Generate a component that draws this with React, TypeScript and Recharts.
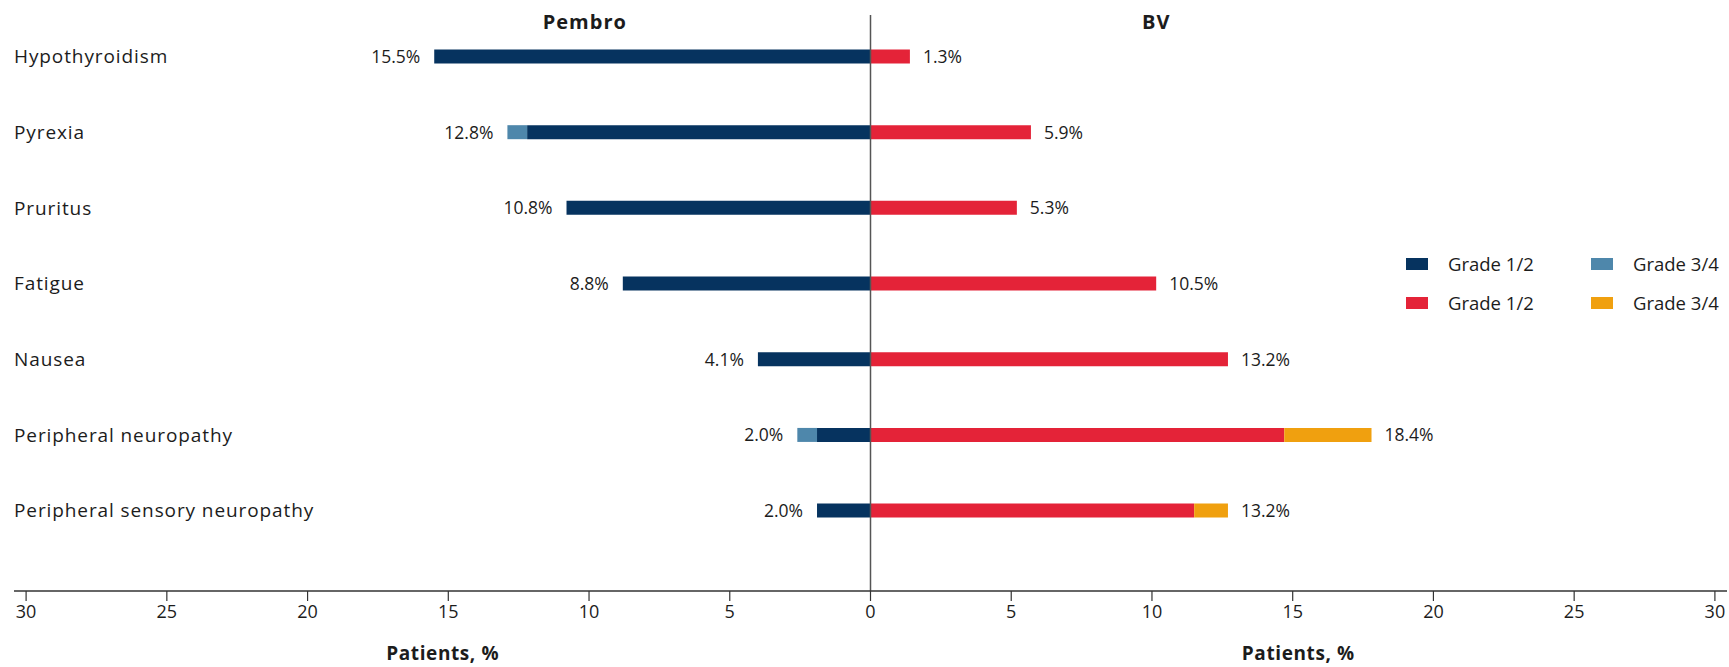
import React from 'react';
import { BarChart, Bar, XAxis, YAxis, ReferenceLine, LabelList, Legend } from 'recharts';

const categories = [
  'Hypothyroidism',
  'Pyrexia',
  'Pruritus',
  'Fatigue',
  'Nausea',
  'Peripheral neuropathy',
  'Peripheral sensory neuropathy',
];
const pembroGrade12 = [15.5, 12.2, 10.8, 8.8, 4.0, 1.9, 1.9];
const pembroGrade34 = [0, 0.7, 0, 0, 0, 0.7, 0];
const bvGrade12 = [1.4, 5.7, 5.2, 10.15, 12.7, 14.7, 11.5];
const bvGrade34 = [0, 0, 0, 0, 0, 3.1, 1.2];
const pembroLabels = ['15.5%', '12.8%', '10.8%', '8.8%', '4.1%', '2.0%', '2.0%'];
const bvLabels = ['1.3%', '5.9%', '5.3%', '10.5%', '13.2%', '18.4%', '13.2%'];
const xTicks = [-30, -25, -20, -15, -10, -5, 0, 5, 10, 15, 20, 25, 30];
const armTitles = ['Pembro', 'BV'];
const axisTitle = 'Patients, %';
const legendOrder = ['pembro12', 'pembro34', 'bv12', 'bv34'];

const COLORS = {
  pembro12: '#06335f',
  pembro34: '#4e87ab',
  bv12: '#e42338',
  bv34: '#f0a00f',
};

const FONT = '"Open Sans", sans-serif';
const TEXT = '#1c1c1c';

const W = 1729;
const H = 667;
const PLOT_L = 14;
const PLOT_R = 1727;
const DOM = 30.43;
const xPos = (v: number) => PLOT_L + ((v + DOM) / (2 * DOM)) * (PLOT_R - PLOT_L);

const data = categories.map((name, i) => ({
  name,
  pembro12: -pembroGrade12[i],
  pembro34: -pembroGrade34[i],
  bv12: bvGrade12[i],
  bv34: bvGrade34[i],
}));

const getBox = (props: any) => {
  const vb = props.viewBox || {};
  const x = Number(props.x ?? vb.x);
  const y = Number(props.y ?? vb.y);
  const w = Number(props.width ?? vb.width);
  const h = Number(props.height ?? vb.height);
  return { x, y, w, h };
};

const PembroLabel = (props: any) => {
  const { index } = props;
  const { x, y, w, h } = getBox(props);
  const val = Math.abs(Number(props.value));
  const ppu = val ? Math.abs(w) / val : 0;
  const end = Math.min(x, x + w) - pembroGrade34[index] * ppu;
  return (
    <text x={end - 14} y={y + h / 2} dy={6.5} textAnchor="end" fontSize={17.5} fontFamily={FONT} fill={TEXT}>
      {pembroLabels[index]}
    </text>
  );
};

const BvLabel = (props: any) => {
  const { index } = props;
  const { x, y, w, h } = getBox(props);
  const val = Math.abs(Number(props.value));
  const ppu = val ? Math.abs(w) / val : 0;
  const end = Math.max(x, x + w) + bvGrade34[index] * ppu;
  return (
    <text x={end + 13} y={y + h / 2} dy={6.5} textAnchor="start" fontSize={17.5} fontFamily={FONT} fill={TEXT}>
      {bvLabels[index]}
    </text>
  );
};

const renderCategoryTick = (props: any) => {
  const { y, payload } = props;
  return (
    <text x={14} y={y} dy={7} textAnchor="start" fontSize={19} letterSpacing={0.9} fontFamily={FONT} fill={TEXT}>
      {payload.value}
    </text>
  );
};

const LegendContent = (props: any) => {
  const payload = [...(props.payload || [])].sort(
    (a: any, b: any) => legendOrder.indexOf(String(a.dataKey)) - legendOrder.indexOf(String(b.dataKey)),
  );
  return (
    <div
      style={{
        display: 'grid',
        gridTemplateColumns: '185px 140px',
        fontFamily: FONT,
        fontSize: 18.5,
        color: TEXT,
      }}
    >
      {payload.map((p: any, i: number) => (
        <div key={i} style={{ display: 'flex', alignItems: 'center', height: 38.5 }}>
          <span style={{ display: 'inline-block', width: 22, height: 12, background: p.color, marginRight: 20 }} />
          <span style={{ lineHeight: '20px' }}>{p.value}</span>
        </div>
      ))}
    </div>
  );
};

export default function App() {
  return (
    <div style={{ position: 'relative', width: W, height: H, background: '#fff' }}>
      <style>{'body{margin:0;}'}</style>
      <BarChart
        width={W}
        height={H}
        data={data}
        layout="vertical"
        stackOffset="sign"
        margin={{ top: 15, right: W - PLOT_R, bottom: 36, left: PLOT_L - 1 }}
      >
        <XAxis
          type="number"
          domain={[-DOM, DOM]}
          ticks={xTicks}
          allowDataOverflow
          height={40}
          tickFormatter={(v: number) => String(Math.abs(v))}
          axisLine={{ stroke: '#333', strokeWidth: 1.5 }}
          tickLine={{ stroke: '#333', strokeWidth: 1.2 }}
          tickSize={10}
          tickMargin={4}
          tick={{ fontSize: 18, fontFamily: FONT, fill: TEXT }}
        />
        <YAxis
          type="category"
          dataKey="name"
          width={1}
          axisLine={false}
          tickLine={false}
          padding={{ top: 3.5, bottom: 42.7 }}
          tick={renderCategoryTick}
          interval={0}
        />
        <Legend
          layout="horizontal"
          verticalAlign="middle"
          align="center"
          itemSorter={null as any}
          content={<LegendContent />}
          wrapperStyle={{ position: 'absolute', left: 1406, top: 244.75, width: 330 }}
        />
        <Bar dataKey="pembro12" name="Grade 1/2" stackId="a" fill={COLORS.pembro12} barSize={14} isAnimationActive={false}>
          <LabelList dataKey="pembro12" content={<PembroLabel />} />
        </Bar>
        <Bar dataKey="pembro34" name="Grade 3/4" stackId="a" fill={COLORS.pembro34} barSize={14} isAnimationActive={false} />
        <Bar dataKey="bv12" name="Grade 1/2" stackId="a" fill={COLORS.bv12} barSize={14} isAnimationActive={false}>
          <LabelList dataKey="bv12" content={<BvLabel />} />
        </Bar>
        <Bar dataKey="bv34" name="Grade 3/4" stackId="a" fill={COLORS.bv34} barSize={14} isAnimationActive={false} />
        <ReferenceLine x={0} stroke="#555" strokeWidth={1.5} />
      </BarChart>
      <svg width={W} height={H} style={{ position: 'absolute', left: 0, top: 0, pointerEvents: 'none' }}>
        <text x={xPos(-10.15)} y={28.5} textAnchor="middle" fontSize={20} fontWeight={700} letterSpacing={1} fontFamily={FONT} fill={TEXT}>
          {armTitles[0]}
        </text>
        <text x={xPos(10.15)} y={28.5} textAnchor="middle" fontSize={20} fontWeight={700} letterSpacing={1} fontFamily={FONT} fill={TEXT}>
          {armTitles[1]}
        </text>
        <text x={xPos(-15.2)} y={660} textAnchor="middle" fontSize={19} fontWeight={700} letterSpacing={0.6} fontFamily={FONT} fill={TEXT}>
          {axisTitle}
        </text>
        <text x={xPos(15.2)} y={660} textAnchor="middle" fontSize={19} fontWeight={700} letterSpacing={0.6} fontFamily={FONT} fill={TEXT}>
          {axisTitle}
        </text>
      </svg>
    </div>
  );
}
